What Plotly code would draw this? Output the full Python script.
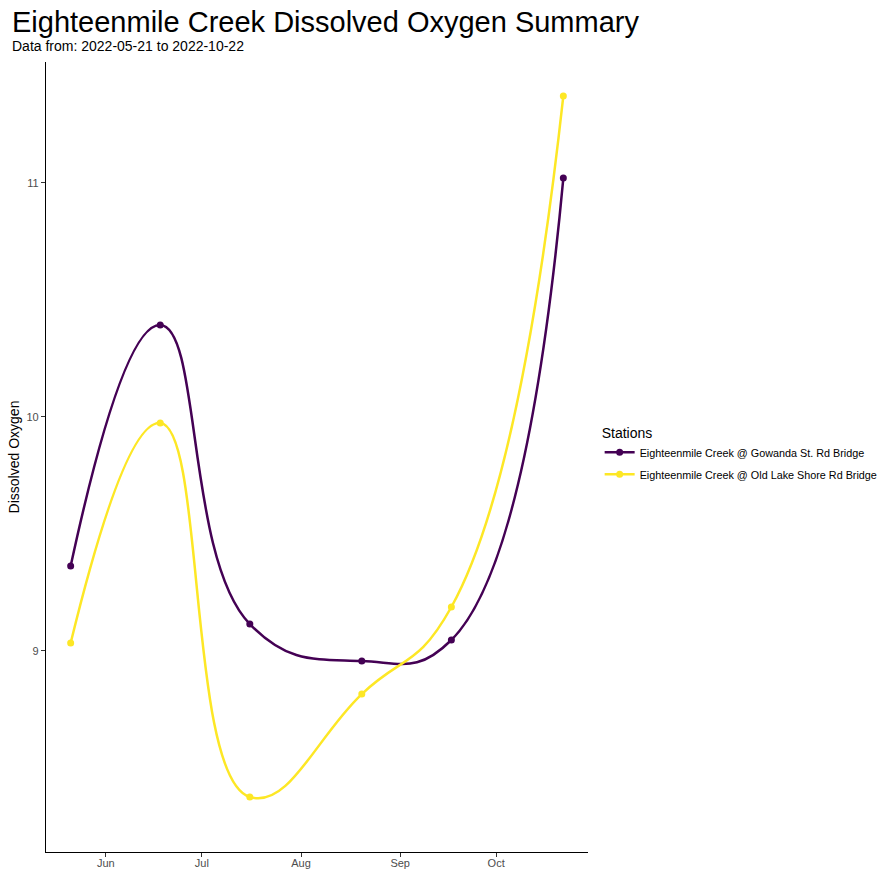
import plotly.graph_objects as go

dates = ["2022-05-21", "2022-06-18", "2022-07-16", "2022-08-20", "2022-09-17", "2022-10-22"]
gowanda = [9.363, 10.393, 9.115, 8.957, 9.047, 11.021]
old_lake = [9.034, 9.974, 8.376, 8.816, 9.188, 11.372]
station_names = ["Eighteenmile Creek @ Gowanda St. Rd Bridge",
                 "Eighteenmile Creek @ Old Lake Shore Rd Bridge"]
colors = ["#440154", "#FDE725"]
x_ticks = ["2022-06-01", "2022-07-01", "2022-08-01", "2022-09-01", "2022-10-01"]
x_tick_labels = ["Jun", "Jul", "Aug", "Sep", "Oct"]
y_ticks = [9, 10, 11]

fig = go.Figure()
for i, (name, vals, col) in enumerate(zip(station_names, [gowanda, old_lake], colors)):
    fig.add_trace(go.Scatter(
        x=dates, y=vals, name=name, mode="lines+markers", legendgroup=f"g{i}",
        line=dict(color=col, width=2.5, shape="spline", smoothing=1.3),
        marker=dict(color=col, size=7),
    ))

font_family = "Liberation Sans, Arial, sans-serif"
fig.update_layout(
    width=881, height=871,
    paper_bgcolor="white", plot_bgcolor="white",
    margin=dict(l=46, r=293, t=62, b=19, autoexpand=False),
    font=dict(family=font_family, color="black"),
    title=dict(text="Eighteenmile Creek Dissolved Oxygen Summary",
               x=12/881, xref="container", xanchor="left",
               y=1-22/871, yref="container", yanchor="middle",
               pad=dict(l=0, r=0, t=0, b=0),
               font=dict(size=29, color="black")),
    annotations=[dict(text="Data from: 2022-05-21 to 2022-10-22",
                      xref="paper", yref="paper",
                      x=(10-46)/542, y=1+(62-46)/790,
                      xanchor="left", yanchor="middle", showarrow=False,
                      font=dict(size=14, color="black"))],
    legend=dict(title=dict(text="Stations", font=dict(size=14)),
                x=0.0215 + 1, xanchor="left", y=0.503, yanchor="middle",
                tracegroupgap=3,
                font=dict(size=10.8), bgcolor="rgba(0,0,0,0)"),
    xaxis=dict(type="date", range=["2022-05-13 07:00", "2022-10-29 17:00"],
               tickvals=x_ticks, ticktext=x_tick_labels, automargin=False,
               showgrid=False, zeroline=False, showline=True, linecolor="black", linewidth=1.2,
               ticks="outside", ticklen=4, tickcolor="#333333", ticklabelstandoff=-3,
               tickfont=dict(size=11, color="#4D4D4D")),
    yaxis=dict(range=[8.141, 11.517], tickvals=y_ticks, automargin=False,
               showgrid=False, zeroline=False, showline=True, linecolor="black", linewidth=1.2,
               ticks="outside", ticklen=4, tickcolor="#333333",
               tickfont=dict(size=11, color="#4D4D4D"),
               title=dict(text="Dissolved Oxygen", font=dict(size=14), standoff=3)),
)

fig.write_html("out.html", config={"displayModeBar": False},
               post_script="document.body.style.margin='0px';")
